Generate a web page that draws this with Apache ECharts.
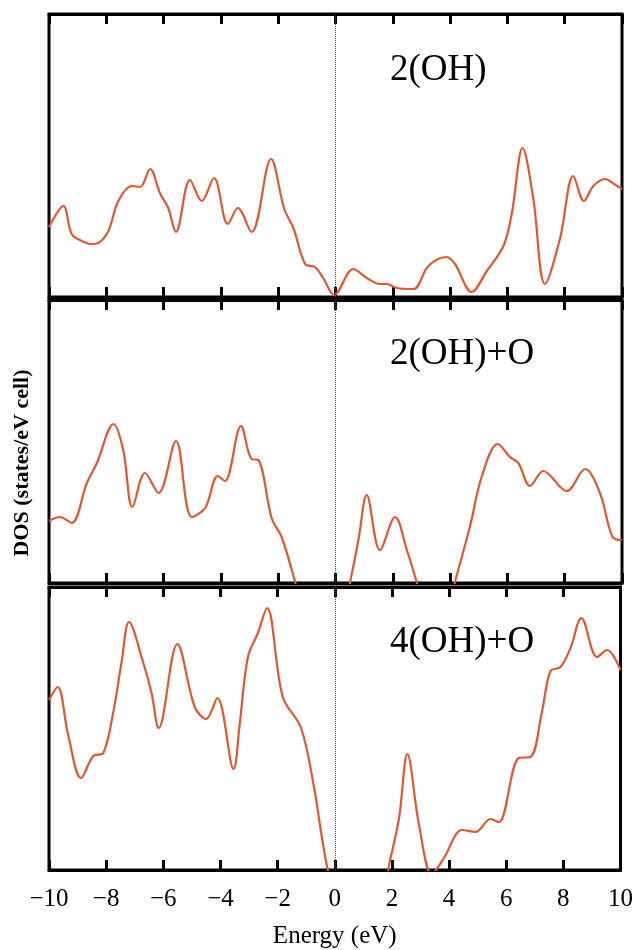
<!DOCTYPE html>
<html>
<head>
<meta charset="utf-8">
<script src="https://cdn.jsdelivr.net/npm/echarts@6/dist/echarts.min.js"></script>
<style>
  html, body { margin: 0; padding: 0; background: #fff; }
  #chart { width: 636px; height: 950px; }
</style>
</head>
<body>
<div id="chart"></div>
<script>
// energy (eV) and DOS (arb. units)
const labels = ['2(OH)', '2(OH)+O', '4(OH)+O']

const e1 = [-10, -9.5, -9.21, -8.86, -8.51, -8.28, -7.93, -7.58, -7.11, -6.82, -6.47, -6.13, -5.84, -5.57,
  -5.08, -4.67, -4.24, -3.76, -3.41, -2.93, -2.25, -1.79, -1.47, -1.06, -0.72, -0.43, -0.05, 0.62, 1.09,
  1.55, 1.79, 2.14, 2.72, 3.24, 3.88, 4.17, 4.75, 5.28, 5.86, 6.15, 6.53, 6.90, 7.31, 7.84, 8.30, 8.67,
  9.00, 9.41, 9.72, 10]
const dos1 = [70, 91, 63, 56, 53, 54, 66, 96, 111, 110, 128, 104, 89, 65,
  117, 96, 119, 73, 89, 65, 138, 88, 69, 33, 30, 19, 2, 28, 19,
  13, 13, 9, 8, 31, 40, 33, 5, 26, 51, 83, 149, 99, 13, 59, 121, 96,
  111, 118, 113, 108]

const e2 = [-10, -9.62, -9.21, -8.68, -8.33, -7.75, -7.41, -7.09, -6.65, -6.18, -5.57, -5.02, -4.55, -4.11,
  -3.86, -3.30, -2.93, -2.69, -2.23, -1.88, -1.41, -1.15, 0.25, 0.51, 0.80, 1.09, 1.55, 2.08, 2.49, 2.83,
  3.1, 3.9, 4.17, 4.69, 5.10, 5.66, 6.09, 6.38, 6.79, 7.25, 8.07, 8.71, 9.23, 9.67, 10]
const dos2 = [62, 66, 60, 100, 120, 159, 133, 76, 110, 90, 142, 66, 75, 107,
  102, 157, 124, 123, 65, 46, 1, -30, -30, 1, 43, 88, 33, 66, 33, 1,
  -30, -30, 1, 56, 106, 139, 126, 120, 97, 112, 92, 114, 90, 46, 43]

const e3 = [-10, -9.70, -9.33, -8.88, -8.45, -8.10, -7.75, -7.46, -7.20, -6.71, -6.42, -6.16, -5.51, -4.90,
  -4.50, -4.11, -3.54, -3.33, -3.04, -2.69, -2.37, -1.82, -1.18, -0.72, -0.48, -0.25, 0.05, 1.65, 1.90,
  2.25, 2.54, 2.95, 3.40, 3.82, 4.46, 4.93, 5.45, 5.74, 6.44, 6.85, 7.25, 7.55, 7.90, 8.25, 8.63, 9.18,
  9.53, 10]
const dos3 = [170, 183, 135, 92, 114, 117, 158, 208, 248, 208, 178, 142, 226, 163,
  151, 172, 101, 145, 213, 237, 262, 173, 142, 82, 38, 1, -30, -30, 5,
  52, 116, 45, -4, 12, 40, 38, 51, 48, 112, 113, 158, 199, 203, 222, 252, 213,
  220, 200]

const xTicks = { min: -10, max: 10, interval: 2 }

const energies = [e1, e2, e3]
const values = [dos1, dos2, dos3]
const gridTops = [14, 300, 587]
const panelH = 283
const lineColor = '#e4572e'
const serif = 'Liberation Serif'

const chart = echarts.init(document.getElementById('chart'))

const grids = gridTops.map(t => ({
  left: 49, width: 573, top: t, height: panelH,
  show: true, borderColor: '#000', borderWidth: 3
}))

function minus(v) {
  return v < 0 ? '\u2212' + (-v) : String(v)
}

const xAxes = []
gridTops.forEach((t, g) => {
  const last = g === gridTops.length - 1
  ;['bottom', 'top'].forEach(pos => {
    const ax = {
      type: 'value', gridIndex: g, position: pos,
      min: xTicks.min, max: xTicks.max, interval: xTicks.interval,
      axisLine: { show: true, onZero: false, lineStyle: { color: '#000', width: 3 } },
      axisTick: { show: true, inside: true, length: 10, lineStyle: { color: '#000', width: 3 } },
      splitLine: { show: false },
      axisLabel: { show: false }
    }
    if (last && pos === 'bottom') {
      ax.axisLabel = {
        show: true, margin: 17, formatter: minus,
        fontFamily: serif, fontSize: 25, color: '#000'
      }
      ax.name = 'Energy (eV)'
      ax.nameLocation = 'middle'
      ax.nameGap = 54
      ax.nameTextStyle = { fontFamily: serif, fontSize: 25, color: '#000' }
    }
    xAxes.push(ax)
  })
})

const yAxes = gridTops.map((t, g) => ({
  type: 'value', gridIndex: g, min: 0, max: panelH, show: false
}))

const series = values.map((vals, g) => ({
  type: 'line', xAxisIndex: g * 2, yAxisIndex: g,
  data: energies[g].map((e, i) => [e, vals[i]]),
  smooth: 0.35, symbol: 'none', clip: true,
  lineStyle: { color: lineColor, width: 2.2 },
  markLine: {
    silent: true, symbol: 'none', label: { show: false },
    lineStyle: { type: 'dotted', color: '#444', width: 1 },
    data: [{ xAxis: 0 }]
  }
}))

const labelY = [71, 355, 643]
const graphics = labels.map((s, i) => ({
  type: 'text', left: 390, top: labelY[i] - 19,
  style: { text: s, font: '37px "Liberation Serif"', fill: '#000' }
}))
graphics.push({
  type: 'text', x: 22, y: 463, rotation: Math.PI / 2,
  style: {
    text: 'DOS (states/eV cell)', font: 'bold 22px "Liberation Serif"', fill: '#000',
    align: 'center', verticalAlign: 'middle'
  }
})

chart.setOption({
  animation: false,
  backgroundColor: '#fff',
  grid: grids,
  xAxis: xAxes,
  yAxis: yAxes,
  series: series,
  graphic: graphics
})
</script>
</body>
</html>
